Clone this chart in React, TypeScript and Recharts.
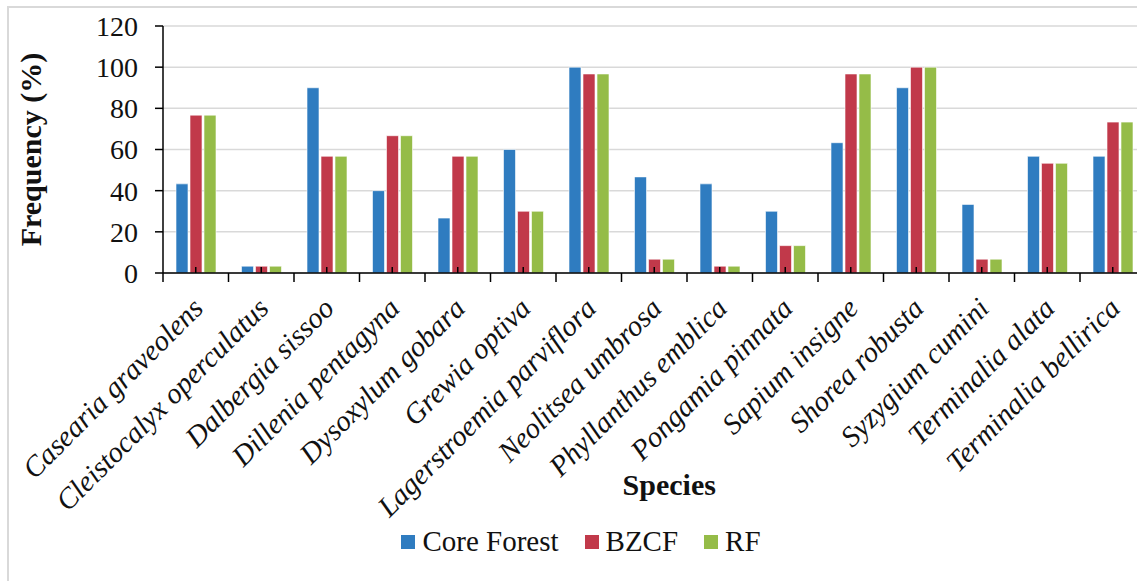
import { BarChart, Bar, XAxis, YAxis, CartesianGrid, Legend, Label } from 'recharts';

const species = [
    'Casearia graveolens',
    'Cleistocalyx operculatus',
    'Dalbergia sissoo',
    'Dillenia pentagyna',
    'Dysoxylum gobara',
    'Grewia optiva',
    'Lagerstroemia parviflora',
    'Neolitsea umbrosa',
    'Phyllanthus emblica',
    'Pongamia pinnata',
    'Sapium insigne',
    'Shorea robusta',
    'Syzygium cumini',
    'Terminalia alata',
    'Terminalia bellirica',
];
const coreForest = [43.3, 3.3, 90, 40, 26.7, 60, 100, 46.7, 43.3, 30, 63.3, 90, 33.3, 56.7, 56.7];
const bzcf = [76.7, 3.3, 56.7, 66.7, 56.7, 30, 96.7, 6.7, 3.3, 13.3, 96.7, 100, 6.7, 53.3, 73.3];
const rf = [76.7, 3.3, 56.7, 66.7, 56.7, 30, 96.7, 6.7, 3.3, 13.3, 96.7, 100, 6.7, 53.3, 73.3];
const yTicks = [0, 20, 40, 60, 80, 100, 120];

const series = [
    { key: 'core', name: 'Core Forest', color: '#2f7cc0' },
    { key: 'bzcf', name: 'BZCF', color: '#c1394a' },
    { key: 'rf', name: 'RF', color: '#95bc48' },
];

const data = species.map((s, i) => ({ species: s, core: coreForest[i], bzcf: bzcf[i], rf: rf[i] }));

const FONT = 'Liberation Serif, DejaVu Serif, serif';
const W = 1160;
const H = 581;
const PLOT_LEFT = 163;
const PLOT_RIGHT = 1145.5;

const SpeciesTick = (props: any) => {
    const { x, y, payload, index } = props;
    const half = payload.offset ?? (PLOT_RIGHT - PLOT_LEFT) / species.length / 2;
    const tx = x + 9;
    const ty = y + 37;
    return (
        <g>
            <line x1={x} x2={x} y1={y} y2={y - 6} stroke="#000" strokeWidth={1.5} />
            <line x1={x - half} x2={x - half} y1={y} y2={y + 9} stroke="#000" strokeWidth={1.5} />
            {index === species.length - 1 && (
                <line x1={x + half} x2={x + half} y1={y} y2={y + 9} stroke="#000" strokeWidth={1.5} />
            )}
            <text
                x={tx}
                y={ty}
                transform={`rotate(-45, ${tx}, ${ty})`}
                textAnchor="end"
                style={{ fontFamily: FONT, fontStyle: 'italic', fontSize: 29 }}
                fill="#111"
            >
                {payload.value}
            </text>
        </g>
    );
};

const LegendContent = () => (
    <div style={{ display: 'flex', justifyContent: 'center', alignItems: 'center', fontFamily: FONT, fontSize: 29, color: '#111', paddingLeft: 2 }}>
        {series.map((s, i) => (
            <div key={s.key} style={{ display: 'flex', alignItems: 'center', marginRight: i < series.length - 1 ? 26 : 0 }}>
                <span style={{ display: 'inline-block', width: 14, height: 14, background: s.color, marginRight: 7 }} />
                <span>{s.name}</span>
            </div>
        ))}
    </div>
);

const App = () => {
    return (
        <div style={{ position: 'absolute', left: 0, top: 0, width: 1137, height: 581, overflow: 'hidden', background: '#fff', fontFamily: FONT }}>
            <div style={{ position: 'absolute', left: 7, top: 6, width: 1200, height: 700, border: '2px solid #d9d9d9' }} />
            <div style={{ position: 'absolute', left: 0, top: 0 }}>
                <BarChart
                    width={W}
                    height={H}
                    data={data}
                    margin={{ top: 26, right: W - PLOT_RIGHT, left: 0, bottom: 0 }}
                    barSize={12}
                    barGap={2}
                    style={{ fontFamily: FONT }}
                >
                    <CartesianGrid vertical={false} stroke="#d9d9d9" strokeWidth={1.5} />
                    <XAxis
                        dataKey="species"
                        interval={0}
                        height={H - 26 - 247}
                        tickLine={false}
                        tickSize={0}
                        tickMargin={0}
                        axisLine={{ stroke: '#000', strokeWidth: 1.5 }}
                        tick={<SpeciesTick />}
                    >
                        <Label
                            value="Species"
                            position="insideTop"
                            offset={201}
                            dx={15}
                            style={{ fontFamily: FONT, fontWeight: 'bold', fontSize: 30, fill: '#111' }}
                        />
                    </XAxis>
                    <YAxis
                        width={PLOT_LEFT}
                        domain={[0, 120]}
                        ticks={yTicks}
                        interval={0}
                        tickSize={8}
                        tickMargin={17}
                        axisLine={{ stroke: '#000', strokeWidth: 1.5 }}
                        tickLine={{ stroke: '#000', strokeWidth: 1.5 }}
                        tick={{ fontFamily: FONT, fontSize: 28, fill: '#111', style: { fontFamily: FONT } }}
                    >
                        <Label
                            content={({ viewBox }: any) => {
                                const cx = viewBox.x + 41;
                                const cy = viewBox.y + viewBox.height / 2;
                                return (
                                    <text
                                        x={cx}
                                        y={cy}
                                        transform={`rotate(-90, ${cx}, ${cy})`}
                                        textAnchor="middle"
                                        style={{ fontFamily: FONT, fontWeight: 'bold', fontSize: 30 }}
                                        fill="#111"
                                    >
                                        Frequency (%)
                                    </text>
                                );
                            }}
                        />
                    </YAxis>
                    <Legend
                        layout="horizontal"
                        verticalAlign="middle"
                        align="center"
                        content={<LegendContent />}
                        wrapperStyle={{ top: 525, left: 0, width: W }}
                    />
                    {series.map((s) => (
                        <Bar
                            key={s.key}
                            dataKey={s.key}
                            name={s.name}
                            fill={s.color}
                            stroke="#ffffff"
                            strokeWidth={0.6}
                            isAnimationActive={false}
                        />
                    ))}
                </BarChart>
            </div>
        </div>
    );
};

export default App;
